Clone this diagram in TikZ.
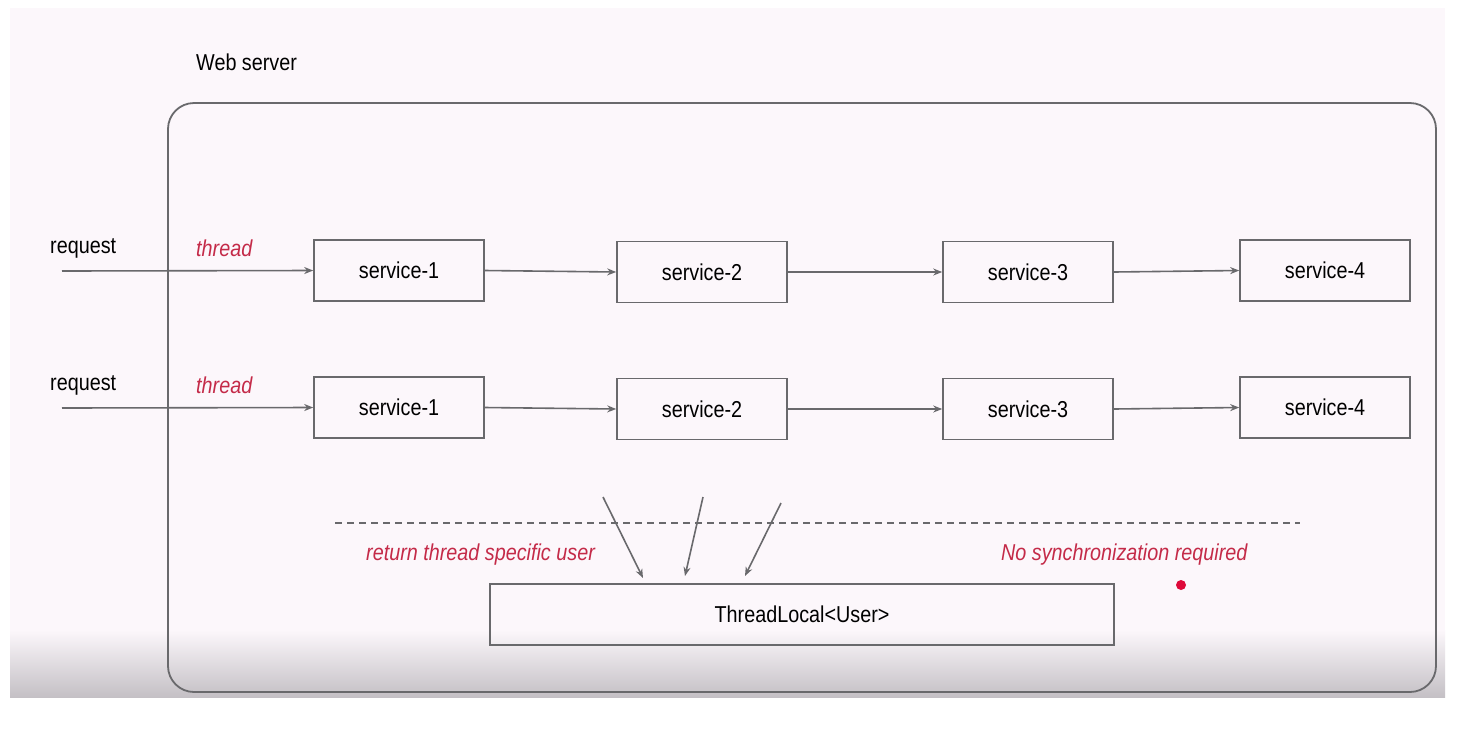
\documentclass[tikz,border=0pt]{standalone}
\usepackage{fontspec}
\setmainfont{Liberation Sans}[FakeStretch=0.86]
\usetikzlibrary{arrows.meta,calc}
\definecolor{slidebg}{RGB}{252,247,251}
\definecolor{slidefoot}{RGB}{196,192,197}
\definecolor{edgegray}{RGB}{105,105,108}
\definecolor{notered}{RGB}{196,42,72}
\definecolor{dotred}{RGB}{222,10,58}
\tikzset{
  x=1pt, y=-1pt,
  label text/.style={font=\fontsize{23}{27}\selectfont, text=black, inner sep=0pt},
  note text/.style={font=\fontsize{23}{27}\selectfont\itshape, text=notered, inner sep=0pt},
  svcbox/.style={draw=edgegray, line width=1.6pt, minimum width=170pt, minimum height=61pt,
                 inner sep=0pt, font=\fontsize{23}{27}\selectfont},
  flow/.style={draw=edgegray, line width=1.6pt, -{Stealth[length=9pt,width=7pt]}},
}
\begin{document}
\begin{tikzpicture}
\useasboundingbox (0,0) rectangle (1467,732);
\fill[white] (0,0) rectangle (1467,732);
% slide area with darker foot
\fill[slidebg] (10,8) rectangle (1445,697);
\shade[top color=slidebg, bottom color=slidefoot] (10,630) rectangle (1445,697);

% web server container
\node[label text, anchor=west] (ws) at (196,62) {Web server};
\draw[edgegray, line width=1.8pt, rounded corners=26pt] (168,103) rectangle (1436,692);

% first request row
\node[label text, anchor=west] (req1) at (50,248) {request};
\node[note text, anchor=west] (th1) at (196,248) {thread};
\coordinate (in1) at (62,271);
\node[svcbox] (a1) at (399,270.5) {service-1};
\node[svcbox] (a2) at (702,272) {service-2};
\node[svcbox] (a3) at (1028,272) {service-3};
\node[svcbox] (a4) at (1325,270.5) {service-4};
\draw[flow] (in1) -- (a1.west);
\draw[flow] (a1.east) -- (a2.west);
\draw[flow] (a2.east) -- (a3.west);
\draw[flow] (a3.east) -- (a4.west);

% second request row
\node[label text, anchor=west] (req2) at (50,385) {request};
\node[note text, anchor=west] (th2) at (196,385) {thread};
\coordinate (in2) at (62,408);
\node[svcbox] (b1) at (399,407.5) {service-1};
\node[svcbox] (b2) at (702,409) {service-2};
\node[svcbox] (b3) at (1028,409) {service-3};
\node[svcbox] (b4) at (1325,407.5) {service-4};
\draw[flow] (in2) -- (b1.west);
\draw[flow] (b1.east) -- (b2.west);
\draw[flow] (b2.east) -- (b3.west);
\draw[flow] (b3.east) -- (b4.west);

% separator
\coordinate (sepL) at (335,523);
\coordinate (sepR) at (1300,523);
\draw[edgegray, line width=1.4pt, dash pattern=on 7pt off 5pt] (sepL) -- (sepR);

\node[note text, anchor=west] (ret) at (366,555) {return thread specific user};
\node[note text, anchor=west] (nosync) at (1001,555) {No synchronization required};
\fill[dotred] (1181,585) circle (5pt);

% thread-local store
\node[svcbox, minimum width=624pt] (tl) at (802,614.5) {ThreadLocal<User>};
\coordinate (u1) at (603,497);
\coordinate (u2) at (703,497);
\coordinate (u3) at (781,503);
\coordinate (t1) at (643,578);
\coordinate (t2) at (685,576);
\coordinate (t3) at (745,576);
\draw[flow] (u1) -- (t1);
\draw[flow] (u2) -- (t2);
\draw[flow] (u3) -- (t3);
\end{tikzpicture}
\end{document}
